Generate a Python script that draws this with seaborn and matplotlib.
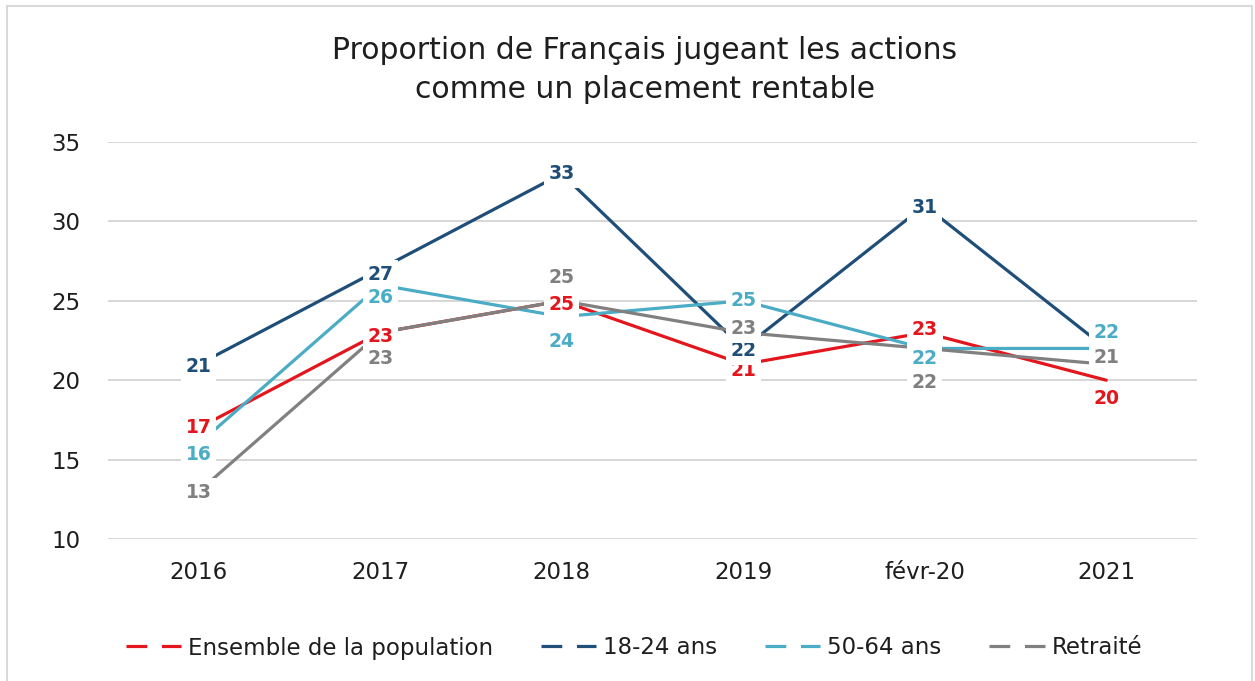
"""Proportion de Français jugeant les actions comme un placement rentable."""

import numpy as np
import pandas as pd
import matplotlib.pyplot as plt
import seaborn as sns
from matplotlib.lines import Line2D
from matplotlib.patches import Rectangle

periodes = ["2016", "2017", "2018", "2019", "févr-20", "2021"]
ensemble = [17, 23, 25, 21, 23, 20]
jeunes_18_24 = [21, 27, 33, 22, 31, 22]
age_50_64 = [16, 26, 24, 25, 22, 22]
retraites = [13, 23, 25, 23, 22, 21]

noms = ["Ensemble de la population", "18-24 ans", "50-64 ans", "Retraité"]
couleurs = ["#E3161E", "#1F4E79", "#4BACC6", "#808080"]

# decalage vertical des etiquettes en pixels (vers le bas), None = masquee
decalages = [
    [0, 4, 4, 6, -3, 18],
    [2, 5, 0, 2, 2, None],
    [11, 13, 25, 0, 10, -16],
    [1, 26, -23, -4, 34, -7],
]

valeurs = [ensemble, jeunes_18_24, age_50_64, retraites]
df = pd.concat([
    pd.DataFrame({"periode": periodes, "valeur": v, "serie": nom})
    for nom, v in zip(noms, valeurs)
], ignore_index=True)

sns.set_theme(style="white")
plt.rcParams["font.family"] = ["DejaVu Sans"]
texte = "#1e1e1e"

fig = plt.figure(figsize=(12.55, 6.81), dpi=100)
ax = fig.add_axes([108 / 1255, 1 - 539 / 681, (1197 - 108) / 1255, (539 - 142) / 681])

sns.lineplot(data=df, x="periode", y="valeur", hue="serie", hue_order=noms,
             palette=couleurs, sort=False, linewidth=2.3, legend=False, ax=ax)

for nom, v, dec, c in zip(noms, valeurs, decalages, couleurs):
    for i, (val, d) in enumerate(zip(v, dec)):
        if d is None:
            continue
        ax.annotate(str(val), (i, val), xytext=(0, -d), textcoords="offset pixels",
                    ha="center", va="center", fontsize=13.5, fontweight="bold", color=c,
                    bbox=dict(boxstyle="square,pad=0.25", fc="white", ec="none"),
                    zorder=5)

ax.set_xlim(-0.5, len(periodes) - 0.5)
ax.set_ylim(10, 35)
ax.set_yticks(range(10, 36, 5))
ax.yaxis.grid(True, color="#d4d4d4", linewidth=1.3)
ax.xaxis.grid(False)
for s in ax.spines.values():
    s.set_visible(False)
ax.set_xlabel("")
ax.set_ylabel("")
ax.tick_params(axis="y", length=0, labelsize=16.5, pad=20, colors=texte)
ax.tick_params(axis="x", length=0, labelsize=16.5, pad=16, colors=texte)

fig.text(645 / 1255, 1 - 70 / 681,
         "Proportion de Français jugeant les actions\ncomme un placement rentable",
         ha="center", va="center", fontsize=21.5, color=texte, linespacing=1.4)

poignees = [Line2D([0], [0], color=c, lw=2.3, linestyle=(0, (6.5, 4.6)))
            for c in couleurs]
fig.legend(poignees, noms, loc="center", bbox_to_anchor=(634 / 1255, 1 - 648 / 681),
           ncol=4, frameon=False, fontsize=16.5, handlelength=2.4, handletextpad=0.3,
           columnspacing=2.1, labelcolor=texte)

fig.patches.append(Rectangle((7 / 1255, -0.05), 1245 / 1255, 1.05 - 6 / 681,
                             transform=fig.transFigure, fill=False,
                             ec="#d9d9d9", lw=1.5))

fig.savefig("out.png", dpi=100)
